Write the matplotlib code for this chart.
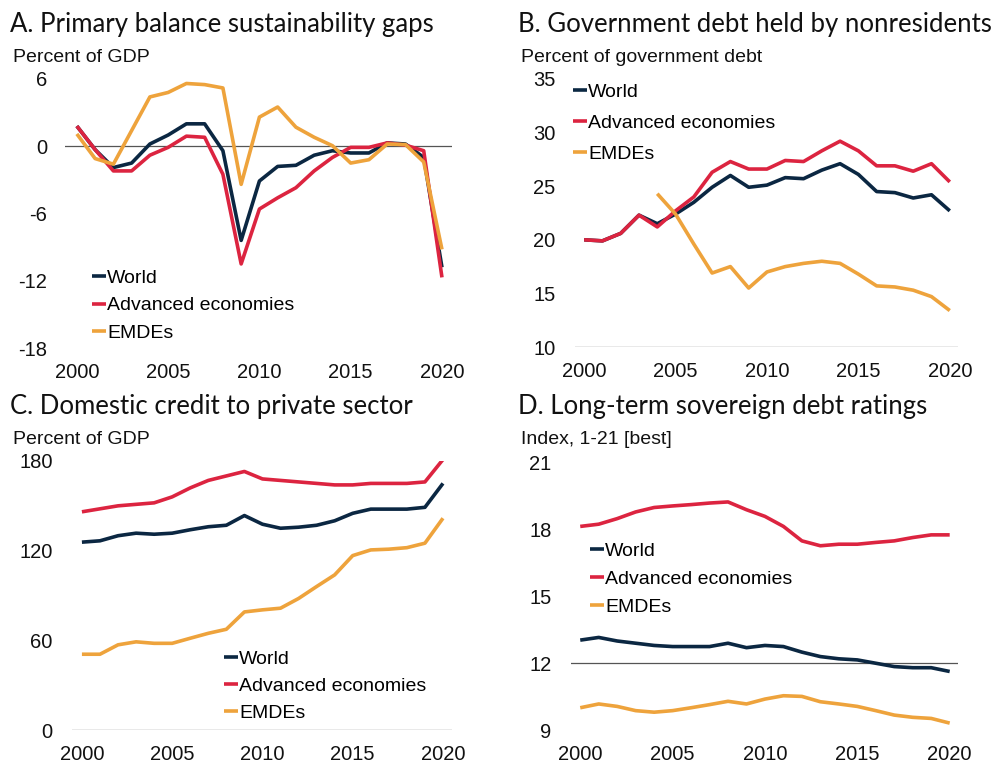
import numpy as np
import matplotlib
matplotlib.use("Agg")
import matplotlib.pyplot as plt

plt.rcParams['font.family'] = ['Liberation Sans', 'DejaVu Sans']
plt.rcParams['axes.unicode_minus'] = False

years = np.arange(2000, 2021)
series_names = ["World", "Advanced economies", "EMDEs"]
colors = ["#0b2742", "#dc2440", "#eea33c"]

# A. Primary balance sustainability gaps (percent of GDP)
gap_world = [1.8, -0.3, -1.9, -1.5, 0.2, 1.0, 2.0, 2.0, -0.4, -8.4, -3.1,
             -1.8, -1.7, -0.8, -0.4, -0.6, -0.6, 0.3, 0.2, -1.0, -10.8]
gap_adv = [1.8, -0.3, -2.2, -2.2, -0.8, -0.1, 0.9, 0.8, -2.5, -10.5, -5.6,
           -4.6, -3.7, -2.2, -1.0, -0.1, -0.1, 0.3, 0.1, -0.4, -11.7]
gap_emde = [1.1, -1.1, -1.6, 1.4, 4.4, 4.8, 5.6, 5.5, 5.2, -3.4, 2.6,
            3.5, 1.7, 0.8, 0.05, -1.5, -1.2, 0.2, 0.15, -1.4, -9.2]

# B. Government debt held by nonresidents (percent of government debt)
nonres_world = [20.0, 19.9, 20.6, 22.3, 21.5, 22.4, 23.5, 24.9, 26.0, 24.9, 25.1,
                25.8, 25.7, 26.5, 27.1, 26.1, 24.5, 24.4, 23.9, 24.2, 22.7]
nonres_adv = [20.0, 19.9, 20.6, 22.3, 21.2, 22.7, 24.0, 26.3, 27.3, 26.6, 26.6,
              27.4, 27.3, 28.3, 29.2, 28.3, 26.9, 26.9, 26.4, 27.1, 25.4]
nonres_emde = [np.nan, np.nan, np.nan, np.nan, 24.3, 22.4, 19.6, 16.9, 17.5, 15.5, 17.0,
               17.5, 17.8, 18.0, 17.8, 16.8, 15.7, 15.6, 15.3, 14.7, 13.4]

# C. Domestic credit to private sector (percent of GDP)
credit_world = [125.7, 126.6, 130.0, 131.7, 131.0, 131.7, 134.0, 136.0, 137.0, 143.5, 137.7,
                135.0, 135.7, 137.0, 140.0, 145.0, 147.8, 147.8, 147.8, 149.0, 165.0]
credit_adv = [146, 148, 150, 151, 152, 156, 162, 167, 170, 173, 168,
              167, 166, 165, 164, 164, 165, 165, 165, 166, 181]
credit_emde = [50.7, 50.7, 57.0, 59.0, 58.0, 58.0, 61.4, 64.7, 67.4, 79.0, 80.4,
               81.5, 88.0, 96.0, 103.8, 116.7, 120.5, 121.0, 122.0, 125.0, 141.7]

# D. Long-term sovereign debt ratings (index, 1-21 best)
rating_world = [13.04, 13.16, 13.0, 12.9, 12.8, 12.75, 12.75, 12.75, 12.9, 12.7, 12.8,
                12.75, 12.5, 12.3, 12.2, 12.15, 12.0, 11.85, 11.8, 11.8, 11.63]
rating_adv = [18.15, 18.25, 18.5, 18.8, 19.0, 19.07, 19.13, 19.2, 19.25, 18.9, 18.6,
              18.15, 17.5, 17.28, 17.35, 17.35, 17.43, 17.5, 17.65, 17.77, 17.77]
rating_emde = [10.0, 10.17, 10.06, 9.87, 9.8, 9.87, 10.0, 10.14, 10.29, 10.17, 10.39,
               10.54, 10.51, 10.27, 10.17, 10.06, 9.87, 9.67, 9.57, 9.52, 9.31]

W, H = 996, 764
fig = plt.figure(figsize=(W / 100, H / 100), dpi=100)


def px_axes(x0, x1, y0, y1):
    # axes box given in pixel coordinates (top-left origin)
    return fig.add_axes([x0 / W, 1 - y1 / H, (x1 - x0) / W, (y1 - y0) / H])


def panel(ax, data, xlim, ylim, yticks, hline, leg_xy, title, unit, title_xy, ypad,
          spacing=0.5):
    for vals, name, c in zip(data, series_names, colors):
        ax.plot(years, vals, color=c, lw=2.6, label=name, solid_capstyle='butt')
    ax.set_xlim(*xlim)
    ax.set_ylim(*ylim)
    ax.set_yticks(yticks)
    ax.set_xticks([2000, 2005, 2010, 2015, 2020])
    for s in ax.spines.values():
        s.set_visible(False)
    ax.axhline(hline, color="#555555", lw=0.9, zorder=0)
    ax.tick_params(length=0, labelsize=14.5, pad=ypad, colors="#111111")
    ax.tick_params(axis='x', pad=11)
    leg = ax.legend(loc='upper left', bbox_to_anchor=leg_xy, bbox_transform=fig.transFigure,
                    frameon=False, fontsize=14, handlelength=0.72, handletextpad=0.05,
                    labelspacing=spacing, borderpad=0, borderaxespad=0)
    for h in leg.get_lines():
        h.set_linewidth(2.6)
    tx, ty = title_xy
    fig.text(tx / W, 1 - ty / H, title, fontsize=18.5, family=['Lato', 'DejaVu Sans'],
             va='top', ha='left', color="#111111")
    fig.text((tx + 3) / W, 1 - (ty + 37) / H, unit, fontsize=14, va='top', ha='left',
             color="#111111")


axA = px_axes(65, 452, 79, 348)
panel(axA, [gap_world, gap_adv, gap_emde], (1999.35, 2020.55), (-18, 6),
      [-18, -12, -6, 0, 6], 0, (92 / W, 1 - 269 / H),
      "A. Primary balance sustainability gaps", "Percent of GDP", (10, 12), 13,
      spacing=0.52)

axB = px_axes(575, 958, 79, 347)
panel(axB, [nonres_world, nonres_adv, nonres_emde], (1999.5, 2020.45), (10, 35),
      [10, 15, 20, 25, 30, 35], 10, (573 / W, 1 - 83 / H),
      "B. Government debt held by nonresidents", "Percent of government debt", (518, 12), 14,
      spacing=0.7)

axC = px_axes(72, 452, 461, 730)
panel(axC, [credit_world, credit_adv, credit_emde], (1999.45, 2020.5), (0, 180),
      [0, 60, 120, 180], 0, (224 / W, 1 - 650 / H),
      "C. Domestic credit to private sector", "Percent of GDP", (10, 394), 14,
      spacing=0.48)

axD = px_axes(571, 958, 463, 730)
panel(axD, [rating_world, rating_adv, rating_emde], (1999.5, 2020.45), (9, 21),
      [9, 12, 15, 18, 21], 12, (590 / W, 1 - 542 / H),
      "D. Long-term sovereign debt ratings", "Index, 1-21 [best]", (518, 394), 14,
      spacing=0.54)

fig.savefig("out.png", dpi=100, facecolor="white")
